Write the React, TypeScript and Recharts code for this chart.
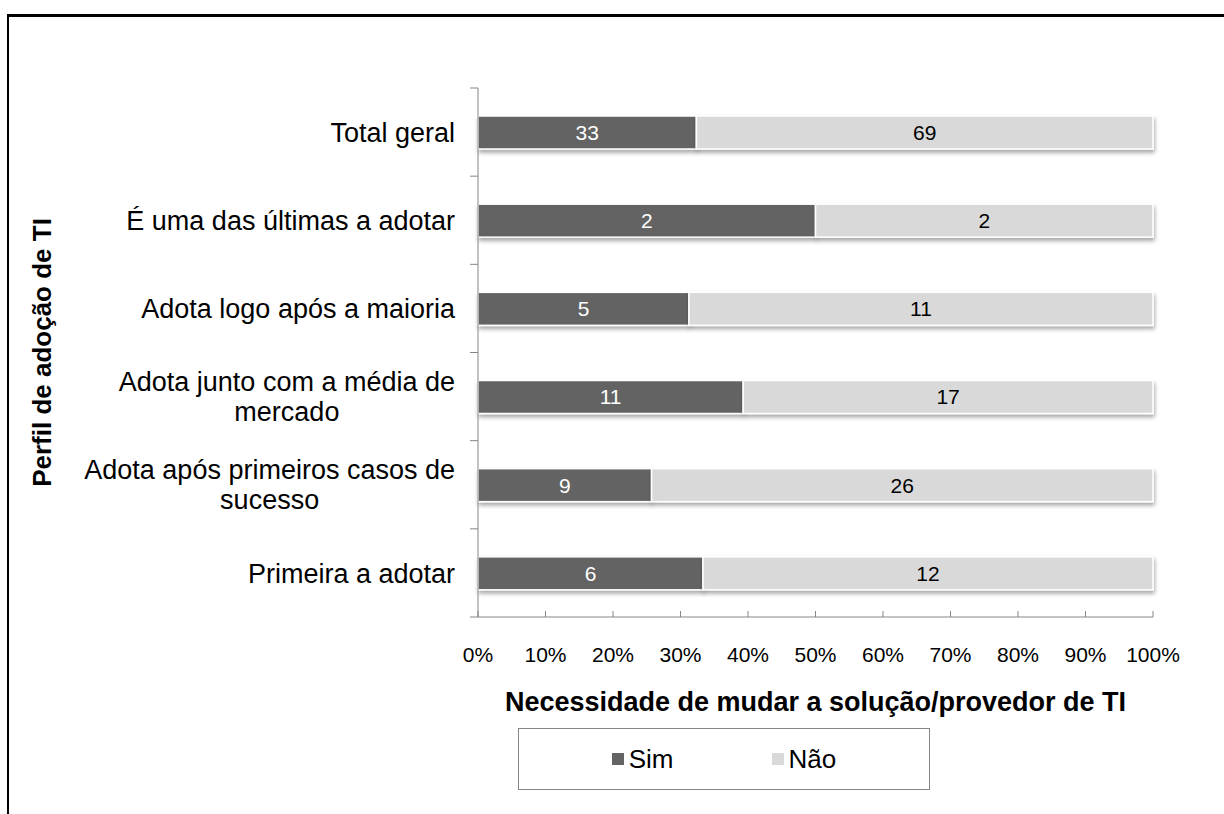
import React from "react";
import { BarChart, Bar, XAxis, YAxis, LabelList } from "recharts";

// categorias de cima para baixo
const categories = [
  "Total geral",
  "É uma das últimas a adotar",
  "Adota logo após a maioria",
  "Adota junto com a média de mercado",
  "Adota após primeiros casos de sucesso",
  "Primeira a adotar",
];
const simValues = [33, 2, 5, 11, 9, 6];
const naoValues = [69, 2, 11, 17, 26, 12];
const seriesNames = ["Sim", "Não"];
const seriesColors = ["#646464", "#d9d9d9"];
const xTicks = [0, 0.1, 0.2, 0.3, 0.4, 0.5, 0.6, 0.7, 0.8, 0.9, 1];
const xTitle = "Necessidade de mudar a solução/provedor de TI";
const yTitle = "Perfil de adoção de TI";

const FONT = '"Liberation Sans", Arial, sans-serif';
const W = 1224;
const H = 814;
const margin = { top: 88, right: 71, bottom: 137, left: 8 };
const Y_AXIS_W = 470;
const X_AXIS_H = 60;
const AXIS_X = margin.left + Y_AXIS_W;
const PLOT_H = H - margin.top - margin.bottom - X_AXIS_H;
const BAND = PLOT_H / categories.length;
const AXIS_GRAY = "#868686";

const data = categories.map((name, i) => ({
  name,
  sim: simValues[i],
  nao: naoValues[i],
}));

let canvasCtx: CanvasRenderingContext2D | null = null;
function textWidth(t: string, font: string) {
  if (!canvasCtx) canvasCtx = document.createElement("canvas").getContext("2d");
  if (!canvasCtx) return t.length * 13;
  canvasCtx.font = font;
  return canvasCtx.measureText(t).width;
}

function wrap(label: string, maxW: number, font: string) {
  const words = label.split(" ");
  const lines: string[] = [];
  let cur = "";
  words.forEach((w) => {
    const test = cur ? cur + " " + w : w;
    if (cur && textWidth(test, font) > maxW) {
      lines.push(cur);
      cur = w;
    } else cur = test;
  });
  if (cur) lines.push(cur);
  return lines;
}

function CategoryTick(props: any) {
  const { x, y, payload, index } = props;
  const size = 27;
  const font = `${size}px ${FONT}`;
  const lines = wrap(String(payload.value), 385, font);
  const blockW = Math.max(...lines.map((l) => textWidth(l, font)));
  const cx = x - blockW / 2;
  const lh = 30;
  const first = y - ((lines.length - 1) * lh) / 2;
  return (
    <g>
      <line x1={AXIS_X - 8} x2={AXIS_X} y1={y - BAND / 2} y2={y - BAND / 2} stroke={AXIS_GRAY} />
      {index === categories.length - 1 && (
        <line x1={AXIS_X - 8} x2={AXIS_X} y1={y + BAND / 2} y2={y + BAND / 2} stroke={AXIS_GRAY} />
      )}
      <text textAnchor="middle" fontFamily={FONT} fontSize={size} fill="#000">
        {lines.map((l, i) => (
          <tspan key={i} x={cx} y={first + i * lh} dy="0.36em">
            {l}
          </tspan>
        ))}
      </text>
    </g>
  );
}

function ShadowRect(p: any) {
  if (!p.width) return null;
  return (
    <rect
      x={p.x}
      y={p.y}
      width={p.width}
      height={p.height}
      fill={p.fill}
      stroke="#fff"
      strokeWidth={1.5}
      filter="url(#barShadow)"
    />
  );
}

export default function App() {
  return (
    <div
      style={{
        position: "fixed",
        left: 0,
        top: 0,
        width: W,
        height: H,
        overflow: "hidden",
        background: "#fff",
        fontFamily: FONT,
      }}
    >
      <svg width={0} height={0} style={{ position: "absolute" }}>
        <defs>
          <filter id="barShadow" x="-5%" y="-20%" width="110%" height="160%">
            <feDropShadow dx="1" dy="3" stdDeviation="2" floodColor="#000" floodOpacity="0.35" />
          </filter>
        </defs>
      </svg>
      <div
        style={{
          position: "absolute",
          left: 7,
          top: 14,
          width: 1400,
          height: 1000,
          borderTop: "3px solid #000",
          borderLeft: "2px solid #000",
        }}
      />
      <div style={{ position: "absolute", left: 0, top: 0 }}>
        <BarChart
          width={W}
          height={H}
          data={data}
          layout="vertical"
          stackOffset="expand"
          margin={margin}
        >
          <XAxis
            type="number"
            domain={[0, 1]}
            ticks={xTicks}
            tickFormatter={(v: number) => `${Math.round(v * 100)}%`}
            height={X_AXIS_H}
            tickSize={-6}
            tickMargin={36}
            axisLine={{ stroke: AXIS_GRAY }}
            tickLine={{ stroke: AXIS_GRAY }}
            tick={{ fill: "#000", fontSize: 21, fontFamily: FONT }}
            interval={0}
            label={{
              value: xTitle,
              position: "bottom",
              offset: 15,
              fill: "#000",
              fontSize: 27,
              fontWeight: "bold",
              fontFamily: FONT,
            }}
          />
          <YAxis
            type="category"
            dataKey="name"
            width={Y_AXIS_W}
            tickSize={8}
            tickMargin={15}
            tickLine={false}
            axisLine={{ stroke: AXIS_GRAY }}
            tick={<CategoryTick />}
            interval={0}
            label={{
              content: () => (
                <text
                  transform={`rotate(-90, 51, ${margin.top + PLOT_H / 2})`}
                  x={51}
                  y={margin.top + PLOT_H / 2}
                  textAnchor="middle"
                  fontFamily={FONT}
                  fontSize={26}
                  fontWeight="bold"
                  fill="#000"
                >
                  {yTitle}
                </text>
              ),
            }}
          />
          <Bar
            dataKey="sim"
            name={seriesNames[0]}
            stackId="a"
            fill={seriesColors[0]}
            barSize={33}
            shape={<ShadowRect />}
            isAnimationActive={false}
          >
            <LabelList dataKey="sim" position="center" fill="#fff" fontSize={21} fontFamily={FONT} />
          </Bar>
          <Bar
            dataKey="nao"
            name={seriesNames[1]}
            stackId="a"
            fill={seriesColors[1]}
            barSize={33}
            shape={<ShadowRect />}
            isAnimationActive={false}
          >
            <LabelList dataKey="nao" position="center" fill="#000" fontSize={21} fontFamily={FONT} />
          </Bar>
        </BarChart>
      </div>
      <div
        style={{
          position: "absolute",
          left: 518,
          top: 728,
          width: 412,
          height: 62,
          boxSizing: "border-box",
          border: `1px solid ${AXIS_GRAY}`,
          display: "flex",
          alignItems: "center",
          justifyContent: "center",
          fontSize: 26,
        }}
      >
        {seriesNames.map((n, i) => (
          <div
            key={n}
            style={{ display: "flex", alignItems: "center", marginLeft: i ? 98 : 0 }}
          >
            <span
              style={{ width: 12, height: 12, background: seriesColors[i], marginRight: 5 }}
            />
            <span>{n}</span>
          </div>
        ))}
      </div>
    </div>
  );
}
